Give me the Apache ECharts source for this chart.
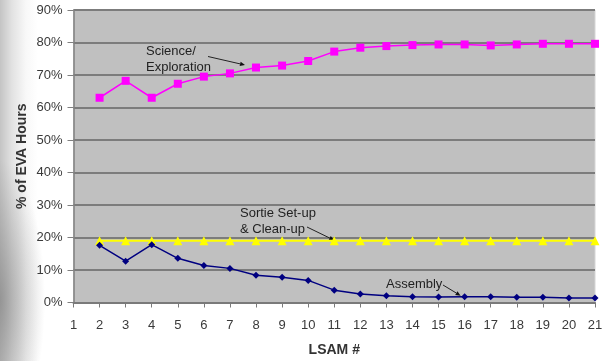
<!DOCTYPE html>
<html>
<head>
<meta charset="utf-8">
<script src="https://cdn.jsdelivr.net/npm/echarts@6/dist/echarts.min.js"></script>
<style>
  html, body { margin: 0; padding: 0; }
  body {
    width: 607px; height: 361px; overflow: hidden;
    background:
      radial-gradient(ellipse 45px 140px at 0px 300px, rgba(110,110,110,0.55), rgba(110,110,110,0) 100%),
      linear-gradient(to right, #c4c4c4 0px, #e2e2e2 12px, #f8f8f8 26px, #ffffff 38px);
  }
  #chart { width: 607px; height: 361px; }
</style>
</head>
<body>
<div id="chart"></div>
<script>
// LSAM mission number along the x axis
const lsam = ['1','2','3','4','5','6','7','8','9','10','11','12','13','14','15','16','17','18','19','20','21'];
// Share of EVA hours (%) per activity
const science  = [null, 63.0, 68.2, 63.0, 67.3, 69.5, 70.5, 72.3, 72.9, 74.3, 77.2, 78.4, 78.9, 79.2, 79.4, 79.4, 79.1, 79.4, 79.6, 79.6, 79.6];
const sortie   = [null, 19, 19, 19, 19, 19, 19, 19, 19, 19, 19, 19, 19, 19, 19, 19, 19, 19, 19, 19, 19];
const assembly = [null, 17.6, 12.7, 17.8, 13.6, 11.4, 10.5, 8.4, 7.8, 6.8, 3.8, 2.6, 2.1, 1.8, 1.7, 1.8, 1.8, 1.6, 1.6, 1.4, 1.4];
const yTicks = { min: 0, max: 90, step: 10 };

const FONT = '"Liberation Sans", Arial, sans-serif';
const chart = echarts.init(document.getElementById('chart'), null, { renderer: 'canvas' });

chart.setOption({
  animation: false,
  backgroundColor: 'transparent',
  grid: {
    left: 73.5, right: 12, top: 10, bottom: 58.5,
    containLabel: false, outerBoundsMode: 'none',
    show: true, backgroundColor: '#c0c0c0',
    borderColor: '#d6d6d6', borderWidth: 1
  },
  xAxis: {
    type: 'category', data: lsam, boundaryGap: false,
    name: 'LSAM #', nameLocation: 'middle', nameGap: 41, nameMoveOverlap: false,
    nameTextStyle: { fontFamily: FONT, fontSize: 14, fontWeight: 'bold', color: '#333' },
    axisLine: { lineStyle: { color: '#7a7a7a', width: 2 } },
    axisTick: { show: true, alignWithLabel: true, length: 5, lineStyle: { color: '#7a7a7a' } },
    axisLabel: { fontFamily: FONT, fontSize: 13, color: '#3a3a3a', margin: 16, interval: 0 },
    splitLine: { show: false }
  },
  yAxis: {
    type: 'value', min: yTicks.min, max: yTicks.max, interval: yTicks.step,
    name: '% of EVA Hours', nameLocation: 'middle', nameGap: 44, nameRotate: 90, nameMoveOverlap: false,
    nameTextStyle: { fontFamily: FONT, fontSize: 14, fontWeight: 'bold', color: '#333' },
    axisLine: { show: true, lineStyle: { color: '#808080', width: 1.5 } },
    axisTick: { show: true, length: 6, lineStyle: { color: '#808080' } },
    axisLabel: { fontFamily: FONT, fontSize: 13, color: '#3a3a3a', margin: 11, formatter: '{value}%' },
    splitLine: { show: true, lineStyle: { color: '#7c7c7c', width: 2 } }
  },
  series: [
    {
      name: 'Science/Exploration', type: 'line', data: science,
      symbol: 'rect', symbolSize: 8,
      lineStyle: { color: '#ff00ff', width: 1.5 },
      itemStyle: { color: '#ff00ff' }
    },
    {
      name: 'Sortie Set-up & Clean-up', type: 'line', data: sortie,
      symbol: 'triangle', symbolSize: 9,
      lineStyle: { color: '#ffff00', width: 2 },
      itemStyle: { color: '#ffff00' }
    },
    {
      name: 'Assembly', type: 'line', data: assembly,
      symbol: 'diamond', symbolSize: 7,
      lineStyle: { color: '#000080', width: 1.5 },
      itemStyle: { color: '#000080' }
    }
  ]
});

// Callout arrows: a thin leader line with a small filled head at the tip
function arrow(x1, y1, x2, y2) {
  const dx = x2 - x1, dy = y2 - y1, len = Math.hypot(dx, dy);
  const ux = dx / len, uy = dy / len, hl = 5, hw = 2.2;
  const bx = x2 - ux * hl, by = y2 - uy * hl;
  return [
    { type: 'line', silent: true, shape: { x1, y1, x2: bx, y2: by },
      style: { stroke: '#222', lineWidth: 1 } },
    { type: 'polygon', silent: true,
      shape: { points: [[x2, y2], [bx - uy * hw, by + ux * hw], [bx + uy * hw, by - ux * hw]] },
      style: { fill: '#111' } }
  ];
}
function label(x, y, text) {
  return { type: 'text', silent: true, left: x, top: y,
    style: { text, fontFamily: FONT, fontSize: 13, fill: '#222', lineHeight: 16 } };
}

const pSci = chart.convertToPixel({ gridIndex: 0 }, ['8', science[7]]);
const pSor = chart.convertToPixel({ gridIndex: 0 }, ['11', sortie[10]]);
const pAsm = chart.convertToPixel({ gridIndex: 0 }, ['16', assembly[15]]);

chart.setOption({
  graphic: [
    label(146, 43, 'Science/\nExploration'),
    ...arrow(208, 56.5, pSci[0] - 11, pSci[1] - 2.5),
    label(240, 205, 'Sortie Set-up\n& Clean-up'),
    ...arrow(307, 227, pSor[0], pSor[1] - 0.5),
    label(386, 276, 'Assembly'),
    ...arrow(443, 285, pAsm[0] - 4, pAsm[1] - 1)
  ]
});
</script>
</body>
</html>
